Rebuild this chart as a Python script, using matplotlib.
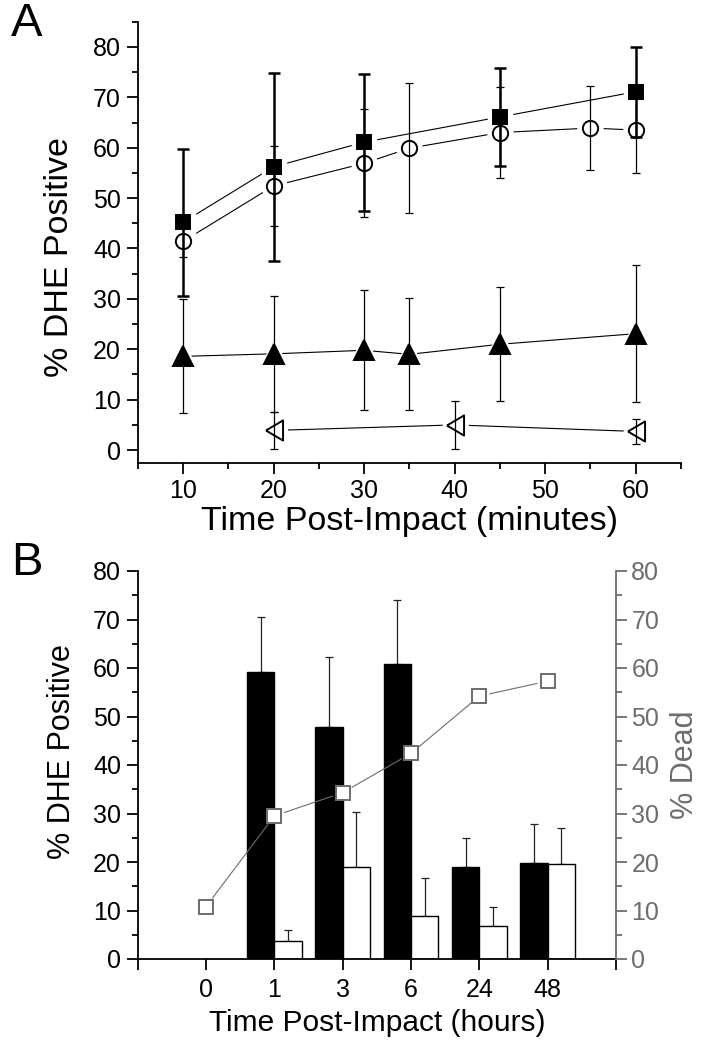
import numpy as np
import matplotlib
matplotlib.use("Agg")
import matplotlib.pyplot as plt
from matplotlib.ticker import MultipleLocator

plt.rcParams['font.family'] = ['Liberation Sans', 'DejaVu Sans']

# panel A: % DHE positive vs minutes post impact
sq_x = [10, 20, 30, 45, 60]
sq_y = [45.2, 56.2, 61.1, 66.1, 71.1]
sq_err = [14.6, 18.6, 13.6, 9.8, 8.9]

circ_x = [10, 20, 30, 35, 45, 55, 60]
circ_y = [41.4, 52.4, 56.9, 59.9, 63.0, 63.9, 63.5]
circ_err = [3.0, 7.9, 10.7, 12.9, 9.0, 8.4, 8.6]

tri_x = [10, 20, 30, 35, 45, 60]
tri_y = [18.6, 19.1, 19.8, 19.0, 21.0, 23.1]
tri_err = [11.3, 11.5, 11.9, 11.1, 11.3, 13.6]

ltri_x = [20, 40, 60]
ltri_y = [3.9, 5.0, 3.7]
ltri_err = [3.6, 4.7, 2.4]

# panel B: hours post impact
hours = ['0', '1', '3', '6', '24', '48']
dhe_black = [np.nan, 59.2, 47.8, 60.9, 19.0, 19.8]
dhe_black_err = [np.nan, 11.3, 14.4, 13.2, 5.9, 8.0]
dhe_white = [np.nan, 3.8, 19.0, 8.9, 6.8, 19.5]
dhe_white_err = [np.nan, 2.1, 11.3, 7.8, 4.0, 7.6]
dead = [10.8, 29.5, 34.3, 42.4, 54.2, 57.3]

GRAY = '#6d6d6d'
W, H = 704, 1049

# narrow, tall left-pointing triangle
LTRI = [(-0.85, 0), (0.85, 1), (0.85, -1), (-0.85, 0)]

fig = plt.figure(figsize=(W / 100, H / 100), dpi=100)
axA = fig.add_axes([137.7 / W, 1 - 462.7 / H, (681 - 137.7) / W, (462.7 - 21.7) / H])
axB = fig.add_axes([137.7 / W, 1 - 959 / H, (616 - 137.7) / W, (959 - 571) / H])


def series(ax, x, y, err, marker, ms, face, elw, cap):
    # line, white halo to make the gap, error bars, marker on top
    ax.plot(x, y, '-', color='black', lw=0.8, zorder=1)
    ax.plot(x, y, ls='none', marker=marker, ms=ms + 7, mfc='white', mec='white', zorder=2)
    ax.errorbar(x, y, yerr=err, fmt='none', ecolor='black', elinewidth=elw,
                capsize=cap, capthick=elw, zorder=3)
    ax.plot(x, y, ls='none', marker=marker, ms=ms, mfc=face, mec='black', mew=1.4, zorder=4)


def gapped_line(ax, x, y, gap_px, **kw):
    # segments between points, cut short near each marker (pixel space)
    pts = ax.transData.transform(np.column_stack([x, y]))
    inv = ax.transData.inverted()
    for p, q in zip(pts[:-1], pts[1:]):
        d = q - p
        u = d / np.hypot(*d)
        seg = inv.transform(np.array([p + u * gap_px, q - u * gap_px]))
        ax.plot(seg[:, 0], seg[:, 1], **kw)


series(axA, tri_x, tri_y, tri_err, '^', 15, 'black', 0.9, 3)
series(axA, ltri_x, ltri_y, ltri_err, LTRI, 14.5, 'none', 0.9, 3)
series(axA, circ_x, circ_y, circ_err, 'o', 11, 'none', 0.9, 3)
series(axA, sq_x, sq_y, sq_err, 's', 10.5, 'black', 1.8, 4)

axA.set_xlim(5, 65)
axA.set_ylim(-2.5, 85)
axA.set_xticks([10, 20, 30, 40, 50, 60])
axA.set_yticks(range(0, 81, 10))
axA.xaxis.set_minor_locator(MultipleLocator(5))
axA.yaxis.set_minor_locator(MultipleLocator(5))
axA.set_xlabel('Time Post-Impact (minutes)', fontsize=24.5, labelpad=2)
axA.set_ylabel('% DHE Positive', fontsize=24.5)
axA.yaxis.set_label_coords(-0.115, 0.467)

# panel B
x = np.arange(len(hours))
bw = 0.4
axB.bar(x - bw / 2, dhe_black, bw, color='black', edgecolor='black', lw=1, zorder=2)
axB.bar(x + bw / 2, dhe_white, bw, color='white', edgecolor='black', lw=1, zorder=2)
zeros = np.zeros(len(hours))
axB.errorbar(x - bw / 2, dhe_black, yerr=[zeros, dhe_black_err], fmt='none', ecolor='#222222',
             elinewidth=0.9, capsize=3, capthick=0.9, zorder=1)
axB.errorbar(x + bw / 2, dhe_white, yerr=[zeros, dhe_white_err], fmt='none', ecolor='#222222',
             elinewidth=0.9, capsize=3, capthick=0.9, zorder=1)

axB.set_xlim(-1, 6)
axB.set_ylim(0, 80)
axB.set_xticks(np.arange(-1, 7))
axB.set_xticklabels([''] + hours + [''])
axB.set_yticks(range(0, 81, 10))
axB.yaxis.set_minor_locator(MultipleLocator(5))
axB.set_xlabel('Time Post-Impact (hours)', fontsize=21.5, labelpad=5)
axB.set_ylabel('% DHE Positive', fontsize=22)
axB.yaxis.set_label_coords(-0.127, 0.535)

axR = axB.twinx()
axR.set_position(axB.get_position())
axR.set_ylim(0, 80)
axR.set_xlim(-1, 6)
gapped_line(axR, x, dead, 11, color=GRAY, lw=0.8, zorder=3)
axR.plot(x, dead, ls='none', marker='s', ms=9.5, mfc='white', mec=GRAY, mew=1.4, zorder=4)
axR.set_yticks(range(0, 81, 10))
axR.yaxis.set_minor_locator(MultipleLocator(5))
axR.set_ylabel('% Dead', fontsize=22, color=GRAY, labelpad=8)
axR.tick_params(axis='y', which='both', colors=GRAY, labelcolor=GRAY, labelsize=18, width=1.3)
axR.tick_params(axis='y', which='major', length=8, pad=3)
axR.tick_params(axis='y', which='minor', length=4)
for s in ['top', 'left', 'bottom']:
    axR.spines[s].set_visible(False)
axR.spines['right'].set_color(GRAY)
axR.spines['right'].set_linewidth(1.3)

for ax in (axA, axB):
    ax.spines['top'].set_visible(False)
    ax.spines['right'].set_visible(False)
    for s in ['left', 'bottom']:
        ax.spines[s].set_linewidth(1.3)
    ax.tick_params(which='both', direction='out', width=1.3, labelsize=18)
    ax.tick_params(which='major', length=8, pad=4)
    ax.tick_params(which='minor', length=4)
axB.tick_params(axis='x', which='major', length=8, pad=6)

fig.text(11 / W, 1 - 2 / H, 'A', fontsize=34, va='top', ha='left')
fig.text(11 / W, 1 - 541 / H, 'B', fontsize=34, va='top', ha='left')

fig.savefig('out.png', dpi=100)
